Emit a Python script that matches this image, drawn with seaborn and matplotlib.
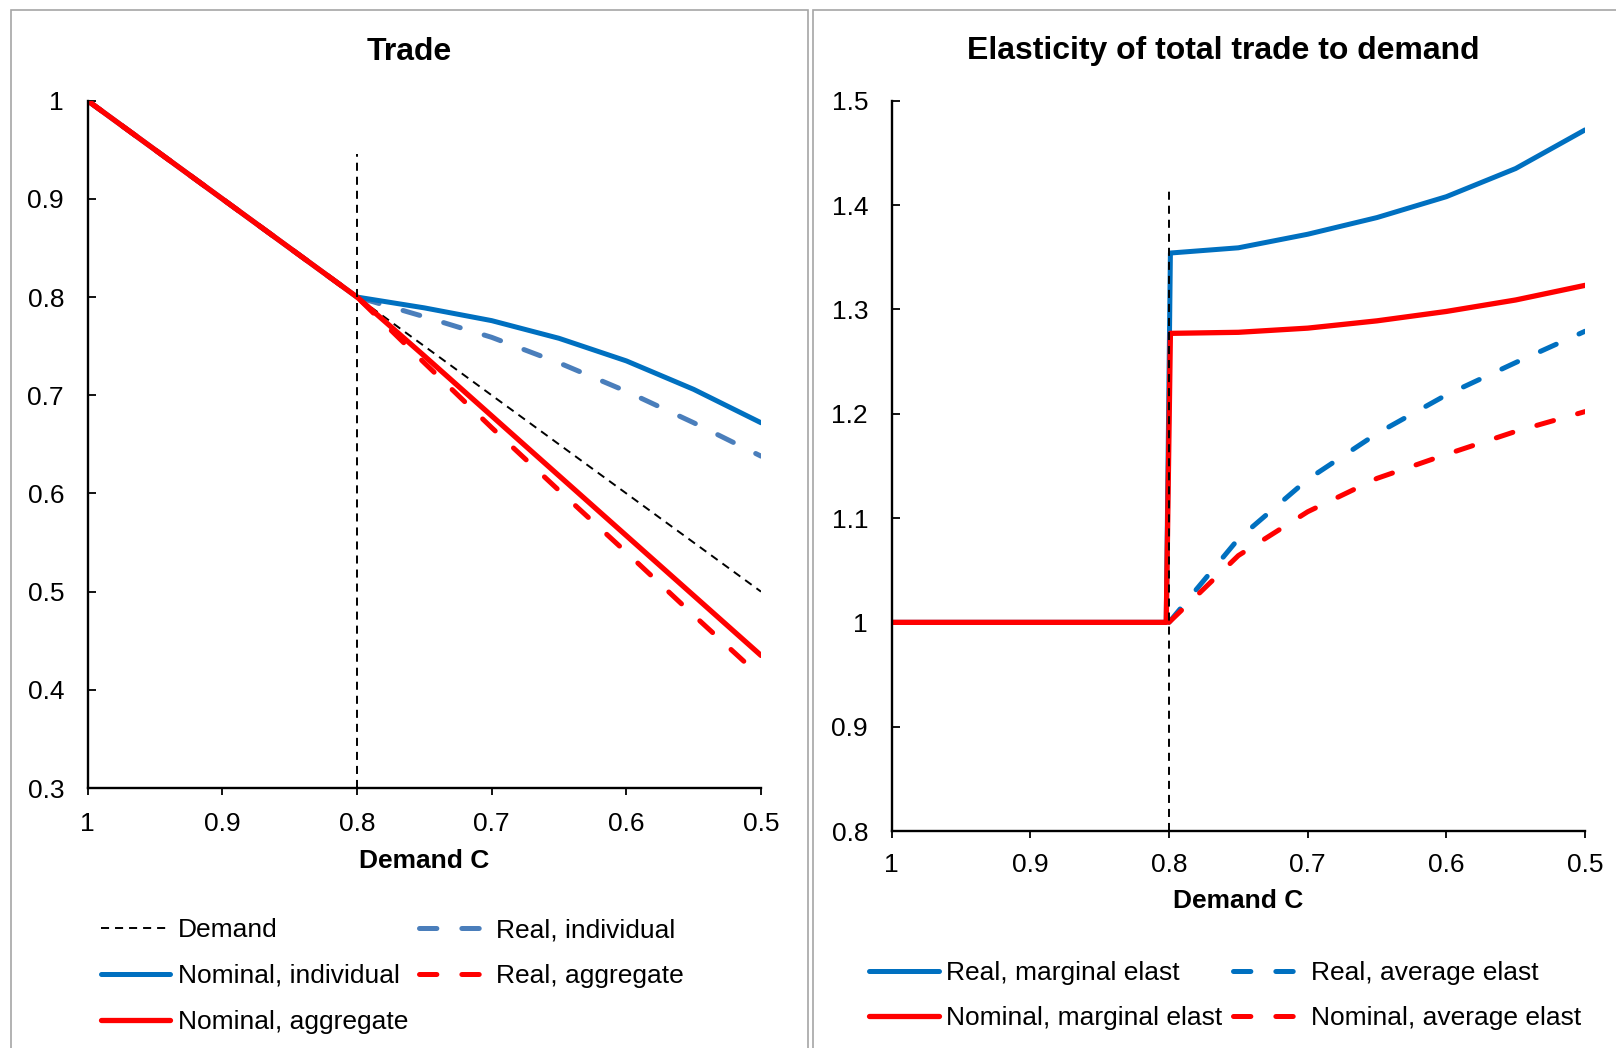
import matplotlib
matplotlib.use('Agg')
import matplotlib.pyplot as plt
import seaborn as sns
from matplotlib.patches import Rectangle

# ---- left panel: trade ----
demand_c = [1.0, 0.95, 0.9, 0.85, 0.8, 0.75, 0.7, 0.65, 0.6, 0.55, 0.5]
demand = [1.0, 0.95, 0.9, 0.85, 0.8, 0.75, 0.7, 0.65, 0.6, 0.55, 0.5]
real_individual = [1.0, 0.95, 0.9, 0.85, 0.8, 0.780, 0.759, 0.733, 0.704, 0.672, 0.638]
nominal_individual = [1.0, 0.95, 0.9, 0.85, 0.8, 0.789, 0.776, 0.758, 0.735, 0.706, 0.672]
real_aggregate = [1.0, 0.95, 0.9, 0.85, 0.8, 0.733, 0.667, 0.603, 0.540, 0.476, 0.413]
nominal_aggregate = [1.0, 0.95, 0.9, 0.85, 0.8, 0.740, 0.679, 0.618, 0.557, 0.496, 0.435]
cutoff_x = [0.8, 0.8]
cutoff_left = [0.3, 0.946]

# ---- right panel: elasticity ----
marg_c = [1.0, 0.9, 0.802, 0.799, 0.75, 0.7, 0.65, 0.6, 0.55, 0.5]
real_marginal = [1.0, 1.0, 1.0, 1.354, 1.359, 1.372, 1.388, 1.408, 1.435, 1.472]
nominal_marginal = [1.0, 1.0, 1.0, 1.277, 1.278, 1.282, 1.289, 1.298, 1.309, 1.323]
avg_c = [0.8, 0.75, 0.7, 0.65, 0.6, 0.55, 0.5]
real_average = [1.0, 1.080, 1.137, 1.181, 1.218, 1.249, 1.279]
nominal_average = [1.0, 1.064, 1.106, 1.138, 1.161, 1.183, 1.202]
cutoff_right = [0.8, 1.414]

x_ticks = [1, 0.9, 0.8, 0.7, 0.6, 0.5]
x_ticklabels = ['1', '0.9', '0.8', '0.7', '0.6', '0.5']
left_yticks = [0.3, 0.4, 0.5, 0.6, 0.7, 0.8, 0.9, 1.0]
left_yticklabels = ['0.3', '0.4', '0.5', '0.6', '0.7', '0.8', '0.9', '1']
right_yticks = [0.8, 0.9, 1.0, 1.1, 1.2, 1.3, 1.4, 1.5]
right_yticklabels = ['0.8', '0.9', '1', '1.1', '1.2', '1.3', '1.4', '1.5']

BLUE = '#0070C0'
STEEL = '#4A7EBB'
RED = '#FF0000'
FS = 19

sns.set_style('white')
plt.rcParams['font.family'] = ['Liberation Sans', 'DejaVu Sans']
plt.rcParams['lines.scale_dashes'] = False
for k in ['text.color', 'axes.labelcolor', 'xtick.color', 'ytick.color']:
    plt.rcParams[k] = 'black'

thin_dash = (0, (5.8, 4.3))
thick_dash = (0, (12.5, 18))


def line(ax, x, y, color, lw, ls='-', cap='round'):
    sns.lineplot(x=x, y=y, ax=ax, color=color, linewidth=lw, linestyle=ls,
                 estimator=None, sort=False, dash_capstyle=cap)


def style_axis(ax, ylim, yticks, yticklabels, xpad):
    ax.set_xlim(1, 0.5)
    ax.set_ylim(*ylim)
    ax.set_xticks(x_ticks)
    ax.set_xticklabels(x_ticklabels)
    ax.set_yticks(yticks)
    ax.set_yticklabels(yticklabels)
    for s in ['top', 'right']:
        ax.spines[s].set_visible(False)
    for s in ['left', 'bottom']:
        ax.spines[s].set_color('black')
        ax.spines[s].set_linewidth(1.7)
    ax.tick_params(axis='x', direction='out', length=5, width=1.3, pad=xpad,
                   labelsize=FS, colors='black', bottom=True)
    ax.tick_params(axis='y', direction='in', length=5.5, width=1.3, pad=17,
                   labelsize=FS, colors='black', left=True)
    ax.set_xlabel('Demand C', fontsize=FS, fontweight='bold', labelpad=9,
                  color='black')
    ax.set_ylabel('')
    ax.grid(False)


fig = plt.figure(figsize=(16.16, 10.48), dpi=100)

# panel frames
fig.add_artist(Rectangle((0.0065, -0.05), 0.4937, 1.0405, transform=fig.transFigure,
                         fill=False, edgecolor='#a6a6a6', linewidth=1.2))
fig.add_artist(Rectangle((0.5033, -0.05), 0.6, 1.0405, transform=fig.transFigure,
                         fill=False, edgecolor='#a6a6a6', linewidth=1.2))

ax1 = fig.add_axes([0.05427, 0.24809, 0.41665, 0.65582])
line(ax1, demand_c, demand, 'black', 1.4, thin_dash, 'butt')
line(ax1, demand_c, real_individual, STEEL, 3.6, thick_dash)
line(ax1, demand_c, nominal_individual, BLUE, 3.6)
line(ax1, demand_c, real_aggregate, RED, 3.6, thick_dash)
line(ax1, demand_c, nominal_aggregate, RED, 3.8)
line(ax1, cutoff_x, cutoff_left, 'black', 1.4, thin_dash, 'butt')
style_axis(ax1, (0.3, 1.0), left_yticks, left_yticklabels, 12.5)

h = ax1.get_lines()
ax1.legend([h[0], h[2], h[4], h[1], h[3]],
           ['Demand', 'Nominal, individual', 'Nominal, aggregate',
            'Real, individual', 'Real, aggregate'],
           ncol=2, frameon=False, fontsize=FS, loc='upper left',
           bbox_to_anchor=(0.0625, 0.1240), bbox_transform=fig.transFigure,
           borderpad=0, borderaxespad=0, labelspacing=0.83,
           handlelength=2.62, handletextpad=0.3, columnspacing=0.4,
           labelcolor='black')

ax2 = fig.add_axes([0.55179, 0.20706, 0.42903, 0.69685])
line(ax2, marg_c, real_marginal, BLUE, 3.6)
line(ax2, avg_c, real_average, BLUE, 3.6, thick_dash)
line(ax2, marg_c, nominal_marginal, RED, 3.8)
line(ax2, avg_c, nominal_average, RED, 3.6, thick_dash)
line(ax2, cutoff_x, cutoff_right, 'black', 1.4, thin_dash, 'butt')
style_axis(ax2, (0.8, 1.5), right_yticks, right_yticklabels, 10.5)

h = ax2.get_lines()
ax2.legend([h[0], h[2], h[1], h[3]],
           ['Real, marginal elast', 'Nominal, marginal elast',
            'Real, average elast', 'Nominal, average elast'],
           ncol=2, frameon=False, fontsize=FS, loc='upper left',
           bbox_to_anchor=(0.5377, 0.0826), bbox_transform=fig.transFigure,
           borderpad=0, borderaxespad=0, labelspacing=0.79,
           handlelength=2.65, handletextpad=0.28, columnspacing=0.41,
           labelcolor='black')

fig.text(409 / 1616, 1 - 51.5 / 1048, 'Trade', ha='center', va='center',
         fontsize=23, fontweight='bold', color='black')
fig.text(1223 / 1616, 1 - 51.5 / 1048, 'Elasticity of total trade to demand',
         ha='center', va='center', fontsize=23, fontweight='bold', color='black')

fig.savefig('out.png', dpi=100)
